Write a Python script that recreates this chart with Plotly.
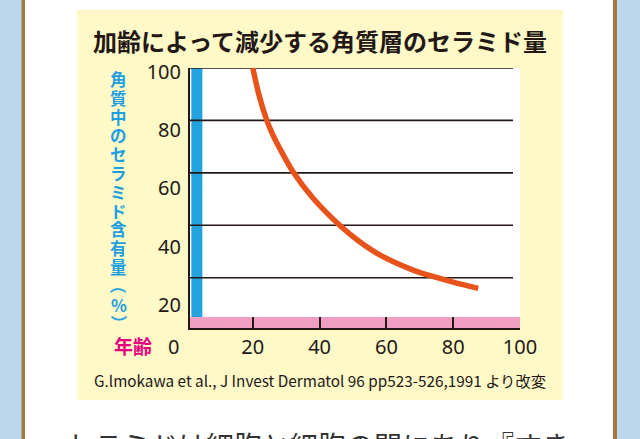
import plotly.graph_objects as go

# ---- data ----
ages = [20, 22, 24.2, 26, 28, 32, 38, 46, 52, 58, 68, 75, 80, 87.5]
ceramide = [100, 89, 80, 74.5, 69.5, 60.5, 50.4, 40, 33.7, 28.7, 22.9, 20.1, 18.3, 15.9]
x_ticks = [20, 40, 60, 80, 100]
x_tick_labels = ["20", "40", "60", "80", "100"]
y_ticks = [20, 40, 60, 80, 100]
y_tick_labels = ["20", "40", "60", "80", "100"]

title_text = "加齢によって減少する角質層のセラミド量"
y_title_text = "角質中のセラミド含有量（%）"
x_title_text = "年齢"
x_zero_label = "0"
source_text = "G.lmokawa et al., J Invest Dermatol 96 pp523-526,1991 より改変"
body_text = "セラミドは細胞と細胞の間にあり『すき"

# ---- geometry helpers (pixel -> paper) ----
W, H = 640, 439
L, R, T, B = 190, 520, 68, 328


def px(x):
    return (x - L) / (R - L)


def py(y):
    return (B - y) / (B - T)


X_RANGE = [1.2, 100]
Y_RANGE = [0.8, 100]
Y2_RANGE = [12.1, 101.27]

DARK = "#231815"
CJK = "Noto Sans CJK JP"
NUM = "Noto Sans"

fig = go.Figure()

fig.add_trace(go.Scatter(
    x=ages, y=ceramide, mode="lines",
    line=dict(color="#e8531b", width=5.5, shape="spline", smoothing=1.0),
    hoverinfo="skip", showlegend=False,
))
# invisible trace to anchor the label axis
fig.add_trace(go.Scatter(
    x=[50], y=[50], yaxis="y2", mode="markers",
    marker=dict(opacity=0), hoverinfo="skip", showlegend=False,
))

shapes = []
# page background pieces
shapes.append(dict(type="rect", xref="paper", yref="paper", layer="below",
                   x0=px(21.5), x1=px(617), y0=py(445), y1=py(-5),
                   fillcolor="#a8793f", line=dict(width=0)))
shapes.append(dict(type="rect", xref="paper", yref="paper", layer="below",
                   x0=px(25), x1=px(613), y0=py(445), y1=py(-5),
                   fillcolor="#ffffff", line=dict(width=0)))
shapes.append(dict(type="rect", xref="paper", yref="paper", layer="below",
                   x0=px(77), x1=px(563), y0=py(400), y1=py(10),
                   fillcolor="#fff9c8", line=dict(width=0)))
shapes.append(dict(type="rect", xref="paper", yref="paper", layer="below",
                   x0=0, x1=1, y0=0, y1=1,
                   fillcolor="#ffffff", line=dict(width=0)))
# blue bar on the left, pink bar at bottom
shapes.append(dict(type="rect", xref="x", yref="y", layer="below",
                   x0=1.6, x1=4.9, y0=5, y1=100,
                   fillcolor="#22a3e0", line=dict(width=0)))
shapes.append(dict(type="rect", xref="x", yref="y", layer="below",
                   x0=X_RANGE[0], x1=X_RANGE[1], y0=Y_RANGE[0], y1=5,
                   fillcolor="#f19ec3", line=dict(width=0)))
# gridlines
for v in y_ticks:
    shapes.append(dict(type="line", xref="x", yref="y", layer="below",
                       x0=X_RANGE[0], x1=97.9, y0=v, y1=v,
                       line=dict(color=DARK, width=1.6)))

annotations = []
annotations.append(dict(text=title_text, xref="paper", yref="paper",
                        x=px(320), y=py(41), showarrow=False,
                        xanchor="center", yanchor="middle",
                        font=dict(family=CJK, size=24, color=DARK, weight="bold")))
for i, ch in enumerate(y_title_text):
    a = dict(text=ch, xref="paper", yref="paper",
             x=px(118.5), y=py(79 + i * 18.8), showarrow=False,
             xanchor="center", yanchor="middle", borderpad=0,
             font=dict(family=CJK, size=16.5, color="#1d9fe2", weight="bold"))
    if ch in "（）":
        a["textangle"] = 90
    annotations.append(a)
annotations.append(dict(text=x_title_text, xref="paper", yref="paper",
                        x=px(133), y=py(345), showarrow=False,
                        xanchor="center", yanchor="middle",
                        font=dict(family=CJK, size=19, color="#e4007f", weight="bold")))
annotations.append(dict(text=x_zero_label, xref="paper", yref="paper",
                        x=px(173.3), y=py(346.5), showarrow=False,
                        xanchor="center", yanchor="middle",
                        font=dict(family=NUM, size=20, color=DARK)))
annotations.append(dict(text=source_text, xref="paper", yref="paper",
                        x=px(319.5), y=py(380), showarrow=False,
                        xanchor="center", yanchor="middle",
                        font=dict(family=CJK, size=15.3, color=DARK)))
annotations.append(dict(text=body_text, xref="paper", yref="paper",
                        x=px(64), y=py(423), showarrow=False,
                        xanchor="left", yanchor="top",
                        font=dict(family=CJK, size=28, color="#333333")))

fig.update_layout(
    width=W, height=H, autosize=False,
    margin=dict(l=L, r=W - R, t=T, b=H - B, pad=0),
    paper_bgcolor="#bcd6eb", plot_bgcolor="rgba(0,0,0,0)",
    showlegend=False,
    shapes=shapes, annotations=annotations,
    xaxis=dict(range=X_RANGE, tickvals=x_ticks, ticktext=x_tick_labels,
               ticks="inside", ticklen=11, tickwidth=1.5, tickcolor=DARK,
               showline=True, linecolor=DARK, linewidth=1.6,
               showgrid=False, zeroline=False, fixedrange=True,
               tickfont=dict(family=NUM, size=20, color=DARK),
               ticklabelstandoff=0),
    yaxis=dict(range=Y_RANGE, showticklabels=False, ticks="",
               showline=True, linecolor=DARK, linewidth=1.6,
               showgrid=False, zeroline=False, fixedrange=True),
    yaxis2=dict(range=Y2_RANGE, overlaying="y", side="left",
                tickvals=y_ticks, ticktext=y_tick_labels, ticks="",
                showline=False, showgrid=False, zeroline=False, fixedrange=True,
                tickfont=dict(family=NUM, size=20, color=DARK),
                ticklabelstandoff=8),
)

fig.write_html(
    "out.html",
    config={"displayModeBar": False},
    post_script="document.body.style.margin='0';document.body.style.overflow='hidden';",
)
